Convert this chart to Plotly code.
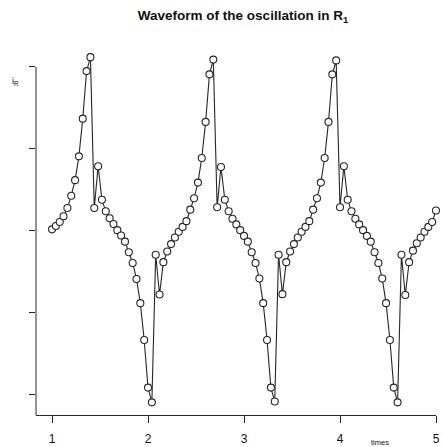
import plotly.graph_objects as go

times = [1.00, 1.04, 1.08, 1.12, 1.16, 1.20, 1.24, 1.28, 1.32, 1.36,
         1.40, 1.44, 1.48, 1.52, 1.56, 1.60, 1.64, 1.68, 1.72, 1.76,
         1.80, 1.84, 1.88, 1.92, 1.96, 2.00, 2.04, 2.08, 2.12, 2.16,
         2.20, 2.24, 2.28, 2.32, 2.36, 2.40, 2.44, 2.48, 2.52, 2.56,
         2.60, 2.64, 2.68, 2.72, 2.76, 2.80, 2.84, 2.88, 2.92, 2.96,
         3.00, 3.04, 3.08, 3.12, 3.16, 3.20, 3.24, 3.28, 3.32, 3.36,
         3.40, 3.44, 3.48, 3.52, 3.56, 3.60, 3.64, 3.68, 3.72, 3.76,
         3.80, 3.84, 3.88, 3.92, 3.96, 4.00, 4.04, 4.08, 4.12, 4.16,
         4.20, 4.24, 4.28, 4.32, 4.36, 4.40, 4.44, 4.48, 4.52, 4.56,
         4.60, 4.64, 4.68, 4.72, 4.76, 4.80, 4.84, 4.88, 4.92, 4.96,
         5.00]

i_R = [0.02, 0.06, 0.11, 0.18, 0.28, 0.43, 0.62, 0.91, 1.37, 1.95,
       2.12, 0.28, 0.79, 0.38, 0.24, 0.155, 0.085, 0.01, -0.055, -0.13,
       -0.26, -0.39, -0.585, -0.88, -1.33, -1.91, -2.09, -0.29, -0.775, -0.38,
       -0.25, -0.16, -0.08, -0.01, 0.05, 0.12, 0.26, 0.40, 0.59, 0.89,
       1.33, 1.91, 2.09, 0.29, 0.78, 0.38, 0.24, 0.15, 0.08, 0.01,
       -0.06, -0.13, -0.26, -0.39, -0.58, -0.88, -1.33, -1.91, -2.08, -0.29,
       -0.77, -0.38, -0.25, -0.16, -0.08, -0.01, 0.05, 0.12, 0.26, 0.40,
       0.59, 0.89, 1.33, 1.91, 2.08, 0.29, 0.79, 0.38, 0.24, 0.15,
       0.08, 0.01, -0.06, -0.13, -0.26, -0.39, -0.58, -0.88, -1.33, -1.91,
       -2.09, -0.29, -0.78, -0.38, -0.24, -0.15, -0.08, -0.01, 0.05, 0.11,
       0.25]

x_ticks = [1, 2, 3, 4, 5]
x_tick_labels = ["1", "2", "3", "4", "5"]
y_ticks = [-2, -1, 0, 1, 2]

INK = "#262626"
FONT = "Liberation Sans, Arial, sans-serif"

W, H = 443, 447
PL, PR, PT, PB = 36, 436, 50, 415          # plot area in page pixels
PW, PH = PR - PL, PB - PT

fig = go.Figure()
fig.add_trace(go.Scatter(
    x=times, y=i_R, mode="lines+markers",
    line=dict(color=INK, width=1.1),
    marker=dict(symbol="circle", size=7, color="white",
                line=dict(color=INK, width=1.1)),
    cliponaxis=False, showlegend=False, hoverinfo="skip",
))

y_lo, y_hi = -2.244, 2.207

fig.update_layout(
    width=W, height=H,
    margin=dict(l=PL, r=W - PR, t=PT, b=H - PB),
    paper_bgcolor="white", plot_bgcolor="white",
    font=dict(family=FONT, color=INK),
    title=dict(text="<b>Waveform of the oscillation in R<sub>1</sub></b>",
               x=243 / W, xanchor="center",
               y=1 - 15 / H, yanchor="middle",
               font=dict(size=13.5, family=FONT, color="#111")),
    xaxis=dict(range=[0.833, 5.0], tickvals=x_ticks, ticktext=x_tick_labels,
               showline=True, linecolor=INK, linewidth=1,
               ticks="outside", ticklen=7, tickcolor=INK, tickwidth=1,
               showgrid=False, zeroline=False, automargin=False,
               tickfont=dict(size=12, family=FONT, color="#111"),
               ticklabelstandoff=6),
    yaxis=dict(range=[y_lo, y_hi], tickvals=y_ticks, showticklabels=False,
               showline=False, ticks="outside", ticklen=6, tickcolor=INK,
               tickwidth=1, showgrid=False, zeroline=False, automargin=False),
    shapes=[dict(type="line", xref="paper", yref="y", x0=0, x1=0,
                 y0=y_ticks[-1], y1=y_lo, line=dict(color=INK, width=1))],
    annotations=[
        dict(text="i<sub>R</sub>", xref="paper", yref="paper",
             x=(15 - PL) / PW, y=(PB - 82) / PH, showarrow=False,
             xanchor="center", yanchor="middle",
             font=dict(size=9, family=FONT, color="#111")),
        dict(text="times", xref="paper", yref="paper",
             x=(380 - PL) / PW, y=(PB - 443) / PH, showarrow=False,
             xanchor="center", yanchor="middle",
             font=dict(size=7.5, family=FONT, color="#111")),
    ],
)

fig.write_html("out.html",
               config={"displayModeBar": False},
               post_script="document.body.style.margin='0';"
                           "document.body.style.overflow='hidden';")
